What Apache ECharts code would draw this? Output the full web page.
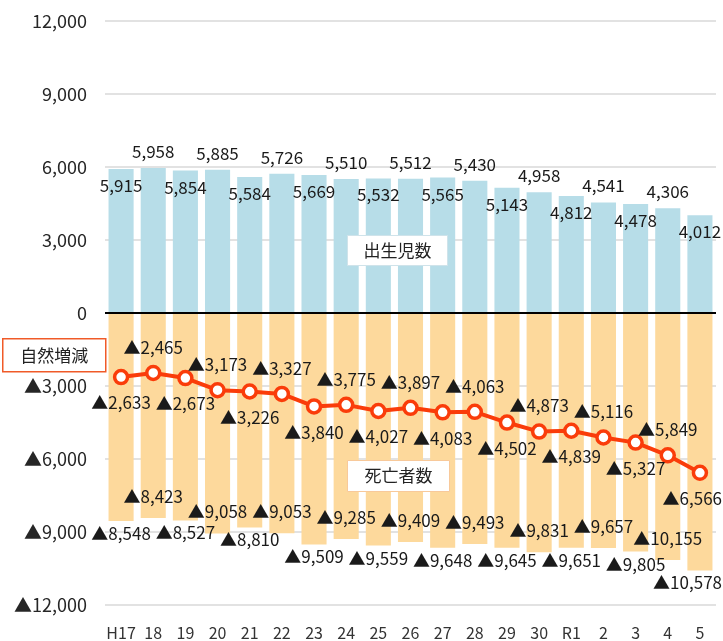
<!DOCTYPE html>
<html>
<head>
<meta charset="utf-8">
<script src="https://cdn.jsdelivr.net/npm/echarts@6/dist/echarts.min.js"></script>
<style>
  html, body { margin: 0; padding: 0; background: #fff; }
  #main { width: 723px; height: 641px; }
</style>
</head>
<body>
<div id="main"></div>
<script>
// 年度
var years = ["H17", "18", "19", "20", "21", "22", "23", "24", "25", "26", "27", "28", "29", "30", "R1", "2", "3", "4", "5"];
// 出生児数
var births = [5915, 5958, 5854, 5885, 5584, 5726, 5669, 5510, 5532, 5512, 5565, 5430, 5143, 4958, 4812, 4541, 4478, 4306, 4012];
// 死亡者数（マイナスで描く）
var deaths = [-8548, -8423, -8527, -9058, -8810, -9053, -9509, -9285, -9559, -9409, -9648, -9493, -9645, -9831, -9651, -9657, -9805, -10155, -10578];
// 自然増減
var natural = [-2633, -2465, -2673, -3173, -3226, -3327, -3840, -3775, -4027, -3897, -4083, -4063, -4502, -4873, -4839, -5116, -5327, -5849, -6566];

var FONT = "'Noto Sans CJK JP', 'Noto Sans', sans-serif";
var W = 723;

function comma(n) {
    return String(Math.abs(n)).replace(/\B(?=(\d{3})+(?!\d))/g, ",");
}
function fmt(n) {
    return (n < 0 ? "▲" : "") + comma(n);
}
// 右端からはみ出すラベルは内側へずらす
function keepInside(p) {
    var over = p.labelRect.x + p.labelRect.width - (W - 1);
    return over > 0 ? { dx: -over } : {};
}

var chart = echarts.init(document.getElementById("main"));

var labelBase = { show: true, fontSize: 17, color: "#1a1a1a", fontFamily: FONT, formatter: function (p) { return fmt(p.value); } };

var option = {
    animation: false,
    textStyle: { fontFamily: FONT },
    grid: { left: 105, right: 7, top: 21, bottom: 35 },
    xAxis: {
        type: "category",
        data: years,
        axisLine: { show: false, onZero: false },
        axisTick: { show: false },
        axisLabel: { interval: 0, fontSize: 16, color: "#333", margin: 20, fontFamily: FONT }
    },
    yAxis: {
        type: "value",
        min: -12000,
        max: 12000,
        interval: 3000,
        axisLine: { show: false },
        axisTick: { show: false },
        axisLabel: {
            fontSize: 18, color: "#262626", margin: 18, fontFamily: FONT,
            formatter: function (v) { return fmt(v); }
        },
        splitLine: { lineStyle: { color: "#d9d9d9", width: 1.5 } }
    },
    series: [
        {
            name: "出生児数",
            type: "bar",
            barCategoryGap: "22%",
            barGap: "-100%",
            itemStyle: { color: "#b7dde8" },
            // 偶数は棒の中、奇数は棒の上
            data: births.map(function (v, i) {
                return { value: v, label: { position: i % 2 ? "top" : "insideTop", distance: 8 } };
            }),
            label: labelBase,
            labelLayout: keepInside,
            markLine: {
                silent: true,
                symbol: "none",
                label: { show: false },
                lineStyle: { color: "#000", width: 2, type: "solid" },
                data: [{ yAxis: 0 }]
            },
            z: 2
        },
        {
            name: "死亡者数",
            type: "bar",
            barCategoryGap: "22%",
            barGap: "-100%",
            itemStyle: { color: "#fdd99c" },
            data: deaths.map(function (v, i) {
                return { value: v, label: { position: i % 2 ? "insideBottom" : "bottom", distance: i % 2 ? 13 : 4 } };
            }),
            label: labelBase,
            labelLayout: keepInside,
            z: 2
        },
        {
            name: "自然増減",
            type: "line",
            symbol: "circle",
            symbolSize: 13,
            lineStyle: { color: "#fa3c0a", width: 4 },
            itemStyle: { color: "#fff", borderColor: "#fa3c0a", borderWidth: 3.5 },
            data: natural.map(function (v, i) {
                return { value: v, label: { position: i % 2 ? "top" : "bottom", distance: 9 } };
            }),
            label: labelBase,
            labelLayout: keepInside,
            z: 5
        }
    ],
    graphic: [
        {
            type: "group", left: 347, top: 235, z: 50,
            children: [
                { type: "rect", z: 50, shape: { x: 0, y: 0, width: 100, height: 30 }, style: { fill: "#fff", stroke: "#cfe3ea", lineWidth: 1 } },
                { type: "text", z: 51, x: 50, y: 15, style: { text: "出生児数", fontSize: 17, fontFamily: FONT, fill: "#222", align: "center", verticalAlign: "middle" } }
            ]
        },
        {
            type: "group", left: 347, top: 460, z: 50,
            children: [
                { type: "rect", z: 50, shape: { x: 0, y: 0, width: 102, height: 31 }, style: { fill: "#fff", stroke: "#f8c99a", lineWidth: 1 } },
                { type: "text", z: 51, x: 51, y: 15.5, style: { text: "死亡者数", fontSize: 17, fontFamily: FONT, fill: "#222", align: "center", verticalAlign: "middle" } }
            ]
        },
        {
            type: "group", left: 2, top: 338, z: 50,
            children: [
                { type: "rect", z: 50, shape: { x: 0, y: 0, width: 103, height: 33 }, style: { fill: "#fff", stroke: "#f05a28", lineWidth: 1.5 } },
                { type: "text", z: 51, x: 51.5, y: 16.5, style: { text: "自然増減", fontSize: 17, fontFamily: FONT, fill: "#222", align: "center", verticalAlign: "middle" } }
            ]
        }
    ]
};

chart.setOption(option);
</script>
</body>
</html>
